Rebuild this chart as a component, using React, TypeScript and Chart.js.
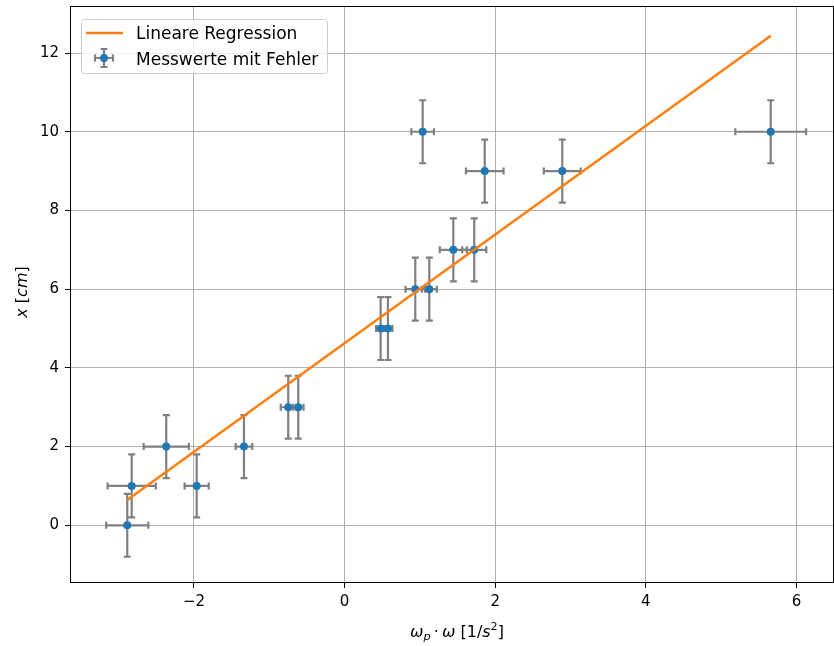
import React, { useEffect, useRef } from "react";
import { Chart, registerables } from "chart.js";

Chart.register(...registerables);

// ---- data ----
const xValues = [-2.886, -2.827, -2.368, -1.964, -1.336, -0.748, -0.615, 0.479, 0.576, 0.939, 1.125, 1.444, 1.722, 1.037, 1.861, 2.891, 5.659];
const yValues = [0, 1, 2, 1, 2, 3, 3, 5, 5, 6, 6, 7, 7, 10, 9, 9, 10];
const xErrors = [0.28, 0.32, 0.3, 0.16, 0.11, 0.1, 0.07, 0.06, 0.06, 0.13, 0.1, 0.18, 0.16, 0.15, 0.25, 0.245, 0.47];
const yErrors = [0.8, 0.8, 0.8, 0.8, 0.8, 0.8, 0.8, 0.8, 0.8, 0.8, 0.8, 0.8, 0.8, 0.8, 0.8, 0.8, 0.8];
const fitX = [-2.886, 5.659];
const fitY = [0.64, 12.44];
const xTicks = [-2, 0, 2, 4, 6];
const yTicks = [0, 2, 4, 6, 8, 10, 12];
const xLimits = [-3.633, 6.486];
const yLimits = [-1.441, 13.17];
const legendLabels = ["Lineare Regression", "Messwerte mit Fehler"];

const BLUE = "#1f77b4";
const ORANGE = "#ff7f0e";
const GRAY = "#808080";
const FAM = "'DejaVu Sans'";

const fmt = (v: number) => (v < 0 ? "\u2212" + Math.abs(v) : String(v));

type Seg = { t: string; font: string; dy: number };

function drawRich(ctx: CanvasRenderingContext2D, segs: Seg[], cx: number, cy: number, rotate: boolean) {
  ctx.save();
  ctx.translate(cx, cy);
  if (rotate) ctx.rotate(-Math.PI / 2);
  ctx.textBaseline = "alphabetic";
  ctx.textAlign = "left";
  ctx.fillStyle = "#000";
  let total = 0;
  const widths = segs.map((s) => {
    ctx.font = s.font;
    const w = ctx.measureText(s.t).width;
    total += w;
    return w;
  });
  let xp = -total / 2;
  segs.forEach((s, i) => {
    ctx.font = s.font;
    ctx.fillText(s.t, xp, s.dy);
    xp += widths[i];
  });
  ctx.restore();
}

function errorBar(ctx: CanvasRenderingContext2D, px: number, py: number, x0: number, x1: number, y0: number, y1: number, cap: number) {
  ctx.beginPath();
  ctx.moveTo(x0, py);
  ctx.lineTo(x1, py);
  ctx.moveTo(px, y0);
  ctx.lineTo(px, y1);
  ctx.moveTo(x0, py - cap);
  ctx.lineTo(x0, py + cap);
  ctx.moveTo(x1, py - cap);
  ctx.lineTo(x1, py + cap);
  ctx.moveTo(px - cap, y0);
  ctx.lineTo(px + cap, y0);
  ctx.moveTo(px - cap, y1);
  ctx.lineTo(px + cap, y1);
  ctx.stroke();
}

const errorBarPlugin = {
  id: "errorBars",
  beforeDatasetsDraw(chart: any) {
    const { ctx, scales, chartArea } = chart;
    const x = scales.x;
    const y = scales.y;
    ctx.save();
    ctx.beginPath();
    ctx.rect(chartArea.left, chartArea.top, chartArea.right - chartArea.left, chartArea.bottom - chartArea.top);
    ctx.clip();
    ctx.strokeStyle = GRAY;
    ctx.lineWidth = 2.2;
    xValues.forEach((xv, i) => {
      const yv = yValues[i];
      errorBar(
        ctx,
        x.getPixelForValue(xv),
        y.getPixelForValue(yv),
        x.getPixelForValue(xv - xErrors[i]),
        x.getPixelForValue(xv + xErrors[i]),
        y.getPixelForValue(yv - yErrors[i]),
        y.getPixelForValue(yv + yErrors[i]),
        3.5
      );
    });
    ctx.restore();
  },
  afterDatasetsDraw(chart: any) {
    const { ctx, chartArea } = chart;
    ctx.save();
    ctx.strokeStyle = "#000";
    ctx.lineWidth = 1;
    ctx.strokeRect(chartArea.left - 0.5, chartArea.top - 0.5, chartArea.right - chartArea.left + 1, chartArea.bottom - chartArea.top + 1);
    ctx.restore();
  },
  afterDraw(chart: any) {
    const { ctx } = chart;
    // legend
    ctx.save();
    const bx = 81.5, by = 19.5, bw = 246, bh = 54, r = 3;
    ctx.beginPath();
    ctx.moveTo(bx + r, by);
    ctx.lineTo(bx + bw - r, by);
    ctx.arcTo(bx + bw, by, bx + bw, by + r, r);
    ctx.lineTo(bx + bw, by + bh - r);
    ctx.arcTo(bx + bw, by + bh, bx + bw - r, by + bh, r);
    ctx.lineTo(bx + r, by + bh);
    ctx.arcTo(bx, by + bh, bx, by + bh - r, r);
    ctx.lineTo(bx, by + r);
    ctx.arcTo(bx, by, bx + r, by, r);
    ctx.closePath();
    ctx.fillStyle = "rgba(255,255,255,0.8)";
    ctx.fill();
    ctx.strokeStyle = "#cccccc";
    ctx.lineWidth = 1;
    ctx.stroke();

    ctx.strokeStyle = ORANGE;
    ctx.lineWidth = 2.5;
    ctx.beginPath();
    ctx.moveTo(86, 33);
    ctx.lineTo(123, 33);
    ctx.stroke();

    ctx.strokeStyle = GRAY;
    ctx.lineWidth = 2.2;
    errorBar(ctx, 104, 58, 95, 113, 49, 67, 3.5);
    ctx.fillStyle = BLUE;
    ctx.beginPath();
    ctx.arc(104, 58, 4, 0, Math.PI * 2);
    ctx.fill();

    ctx.fillStyle = "#000";
    ctx.font = `17px ${FAM}`;
    ctx.textBaseline = "alphabetic";
    ctx.textAlign = "left";
    ctx.fillText(legendLabels[0], 136, 39);
    ctx.fillText(legendLabels[1], 136, 65);
    ctx.restore();

    // axis titles
    const it = (s: number) => `italic ${s}px ${FAM}`;
    const rm = (s: number) => `${s}px ${FAM}`;
    const fs = 16;
    drawRich(
      ctx,
      [
        { t: "\u03c9", font: it(fs), dy: 0 },
        { t: "p", font: it(fs * 0.7), dy: 3 },
        { t: "\u2009\u00b7\u2009", font: rm(fs), dy: 0 },
        { t: "\u03c9", font: it(fs), dy: 0 },
        { t: " [1/", font: rm(fs), dy: 0 },
        { t: "s", font: it(fs), dy: 0 },
        { t: "2", font: rm(fs * 0.7), dy: -7 },
        { t: "]", font: rm(fs), dy: 0 },
      ],
      457,
      637,
      false
    );
    drawRich(
      ctx,
      [
        { t: "x", font: it(fs), dy: 0 },
        { t: " [", font: rm(fs), dy: 0 },
        { t: "cm", font: it(fs), dy: 0 },
        { t: "]", font: rm(fs), dy: 0 },
      ],
      26.5,
      292,
      true
    );
  },
};

export default function App() {
  const ref = useRef<HTMLCanvasElement | null>(null);

  useEffect(() => {
    document.body.style.margin = "0";
    const canvas = ref.current;
    if (!canvas) return;
    const chart = new Chart(canvas, {
      type: "scatter",
      data: {
        datasets: [
          {
            label: legendLabels[0],
            data: fitX.map((xv, i) => ({ x: xv, y: fitY[i] })),
            showLine: true,
            borderColor: ORANGE,
            backgroundColor: ORANGE,
            borderWidth: 2.5,
            pointRadius: 0,
            pointHoverRadius: 0,
          },
          {
            label: legendLabels[1],
            data: xValues.map((xv, i) => ({ x: xv, y: yValues[i] })),
            backgroundColor: BLUE,
            borderColor: BLUE,
            borderWidth: 0,
            pointRadius: 4,
            pointHoverRadius: 4,
          },
        ],
      },
      options: {
        responsive: false,
        animation: false,
        devicePixelRatio: 1,
        layout: { autoPadding: false, padding: { top: 7, right: 1, left: 0, bottom: 0 } },
        plugins: {
          legend: { display: false },
          tooltip: { enabled: false },
        },
        events: [],
        scales: {
          x: {
            type: "linear",
            min: xLimits[0],
            max: xLimits[1],
            afterFit: (s: any) => {
              s.height = 64;
              s.paddingLeft = 0;
              s.paddingRight = 0;
              s.paddingTop = 0;
              s.paddingBottom = 0;
            },
            afterBuildTicks: (s: any) => {
              s.ticks = xTicks.map((v) => ({ value: v }));
            },
            border: { display: false },
            grid: {
              color: "#b0b0b0",
              lineWidth: 1,
              tickColor: "#000",
              tickLength: 6,
              tickWidth: 1,
            },
            ticks: {
              color: "#000",
              font: { family: "DejaVu Sans", size: 15 },
              padding: 5,
              maxRotation: 0,
              callback: (v: any) => fmt(Number(v)),
            },
          },
          y: {
            type: "linear",
            min: yLimits[0],
            max: yLimits[1],
            afterFit: (s: any) => {
              s.width = 71;
              s.paddingLeft = 0;
              s.paddingRight = 0;
              s.paddingTop = 0;
              s.paddingBottom = 0;
            },
            afterBuildTicks: (s: any) => {
              s.ticks = yTicks.map((v) => ({ value: v }));
            },
            border: { display: false },
            grid: {
              color: "#b0b0b0",
              lineWidth: 1,
              tickColor: "#000",
              tickLength: 6,
              tickWidth: 1,
            },
            ticks: {
              color: "#000",
              font: { family: "DejaVu Sans", size: 15 },
              padding: 6,
              callback: (v: any) => fmt(Number(v)),
            },
          },
        },
      },
      plugins: [errorBarPlugin],
    } as any);
    return () => chart.destroy();
  }, []);

  return (
    <div style={{ width: 834, height: 646 }}>
      <canvas ref={ref} width={834} height={646} style={{ display: "block" }} />
    </div>
  );
}
